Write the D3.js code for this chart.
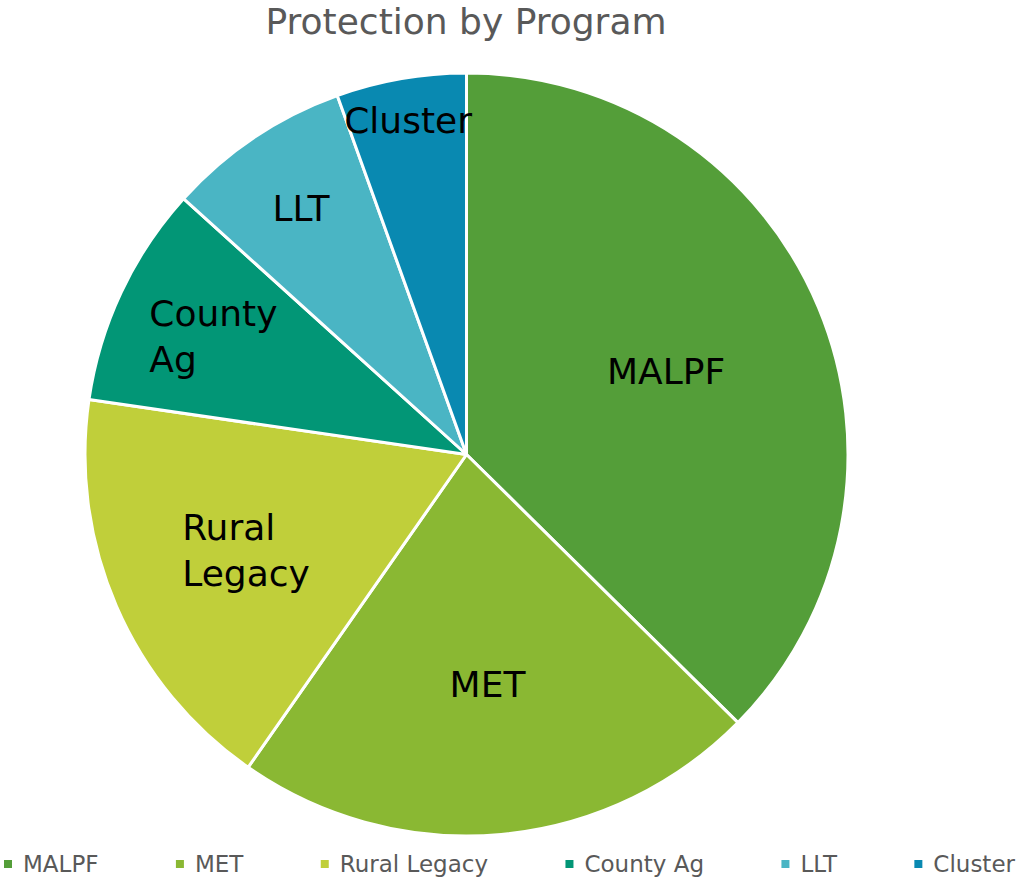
<!DOCTYPE html>
<html>
<head>
<meta charset="utf-8">
<script src="https://cdn.jsdelivr.net/npm/d3@7"></script>
<style>
  html, body { margin: 0; padding: 0; background: #fff; }
  svg { display: block; }
  text { font-family: "DejaVu Sans", sans-serif; }
</style>
</head>
<body>
<svg id="chart" width="1017" height="879"></svg>
<script>
const categories = ["MALPF", "MET", "Rural Legacy", "County Ag", "LLT", "Cluster"];
const values = [37.4, 22.3, 17.6, 9.4, 7.8, 5.5];
const colors = ["#549E39", "#8AB833", "#C0CF3A", "#029676", "#4AB5C4", "#0989B1"];
const title = "Protection by Program";

const W = 1017, H = 879;
const cx = 466.5, cy = 454.5, R = 381.5;
const svg = d3.select("#chart");

const data = categories.map((c, i) => ({ name: c, value: values[i], color: colors[i] }));
const total = d3.sum(values);

svg.append("text")
  .attr("x", 466).attr("y", 34)
  .attr("text-anchor", "middle")
  .attr("font-size", 36)
  .attr("fill", "#595959")
  .text(title);

const pie = d3.pie().value(d => d.value).sort(null).startAngle(0).endAngle(2 * Math.PI);
const arcs = pie(data);
const arc = d3.arc().innerRadius(0).outerRadius(R);

const g = svg.append("g").attr("transform", `translate(${cx},${cy})`);
g.selectAll("path.slice").data(arcs).enter().append("path")
  .attr("class", "slice")
  .attr("d", arc)
  .attr("fill", d => d.data.color)
  .attr("stroke", "#fff")
  .attr("stroke-width", 3)
  .attr("stroke-linejoin", "round");

// data labels
const fs = 36, capH = 0.729 * fs, lineH = 46;
arcs.forEach(a => {
  const f = a.data.value / total;
  const dr = Math.min(0.9, 0.511 + 0.0209 / f) * R;
  const mid = (a.startAngle + a.endAngle) / 2;
  const lx = dr * Math.sin(mid), ly = -dr * Math.cos(mid);
  const lines = a.data.name.split(" ");
  const t = g.append("text")
    .attr("font-size", fs)
    .attr("fill", "#000");
  const spans = lines.map(l => t.append("tspan").text(l));
  const widths = spans.map(s => s.node().getComputedTextLength());
  const maxW = d3.max(widths);
  const n = lines.length;
  const firstBase = ly - (n - 1) * lineH / 2 + capH / 2;
  spans.forEach((s, i) => {
    if (n === 1) {
      s.attr("x", lx).attr("y", firstBase).attr("text-anchor", "middle");
    } else {
      s.attr("x", lx - maxW / 2).attr("y", firstBase + i * lineH);
    }
  });
});

// legend
const lg = svg.append("g");
const legFs = 23, markerSize = 8, textOff = 19;
const items = data.map(d => {
  const t = lg.append("text").attr("font-size", legFs).attr("fill", "#595959").text(d.name);
  return { d, t, w: t.node().getComputedTextLength() };
});
const startX = 4, endX = 1015;
const sumW = d3.sum(items, it => textOff + it.w);
const gap = (endX - startX - sumW) / (items.length - 1);
let x = startX;
items.forEach(it => {
  lg.append("rect")
    .attr("x", x).attr("y", 860)
    .attr("width", markerSize).attr("height", markerSize)
    .attr("fill", it.d.color);
  it.t.attr("x", x + textOff).attr("y", 872);
  x += textOff + it.w + gap;
});
</script>
</body>
</html>
